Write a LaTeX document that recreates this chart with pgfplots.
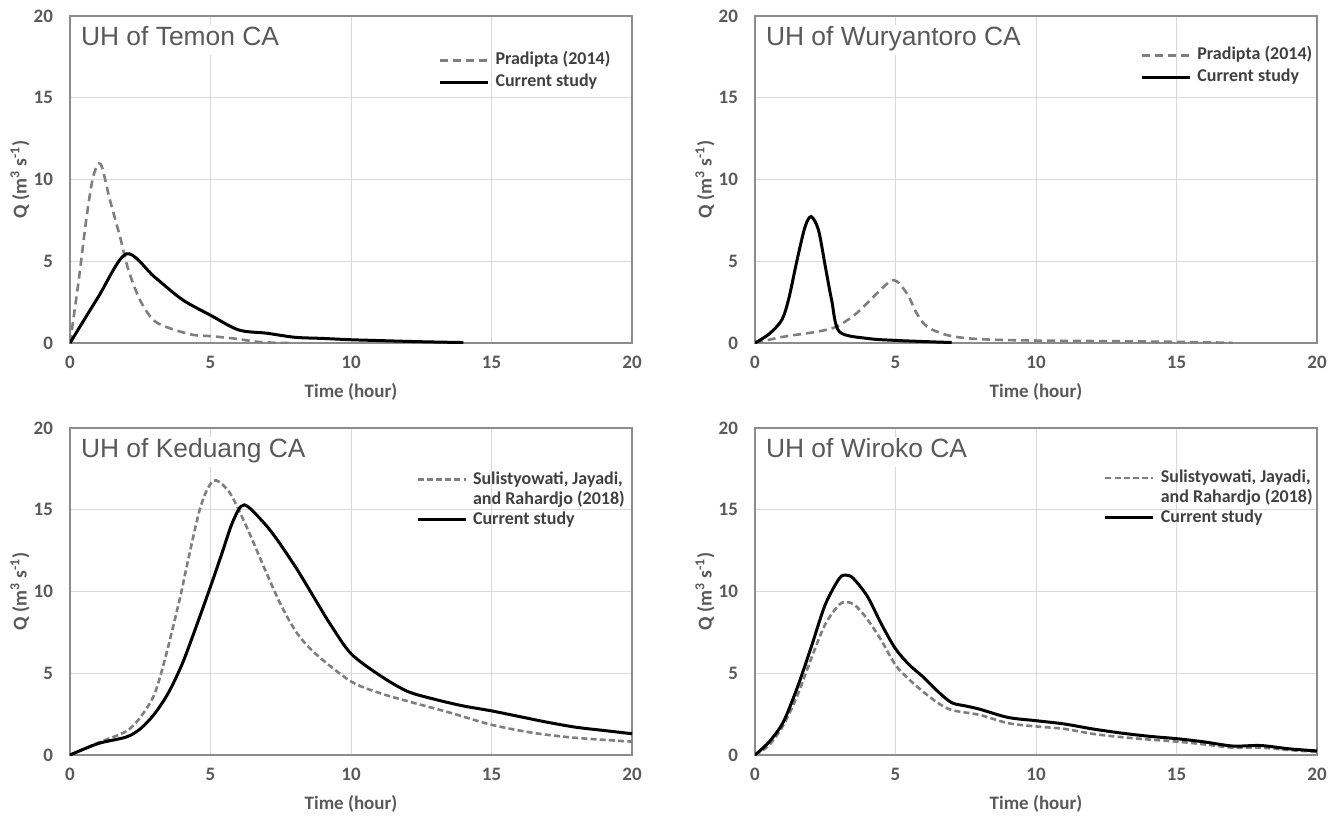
\documentclass[border=0pt]{standalone}
\usepackage{pgfplots}
\pgfplotsset{compat=1.18}
\usepackage{fontspec}
\setmainfont{Carlito}
\newfontfamily\titlefont{Liberation Sans}

\definecolor{txtgray}{HTML}{595959}
\definecolor{leggray}{HTML}{404040}
\definecolor{gridgray}{HTML}{D9D9D9}
\definecolor{framegray}{HTML}{8C8C8C}
\definecolor{dashgray}{HTML}{7F7F7F}

\tikzset{
  paneltitle/.style={anchor=base west, xshift=3.3pt, yshift=-14.5pt, fill=white,
    inner xsep=2pt, inner ysep=0pt, text height=10pt, text depth=5pt,
    font=\titlefont\fontsize{13.2}{15}\selectfont, text=txtgray},
}

\pgfplotsset{
  uhpanel/.style={
    scale only axis, width=281pt, height=163.5pt,
    xmin=0, xmax=20, ymin=0, ymax=20,
    xtick={0,5,...,20}, ytick={0,5,...,20},
    major tick length=0pt,
    grid=major, grid style={gridgray, line width=0.5pt},
    axis line style={framegray, line width=0.6pt},
    ticklabel style={font=\bfseries\fontsize{9.5}{11}\selectfont, text=txtgray},
    /pgf/number format/assume math mode=true,
    xticklabel style={yshift=-3pt},
    yticklabel style={xshift=-5pt},
    xlabel={Time (hour)},
    ylabel={Q (m\textsuperscript{3} s\textsuperscript{-1})},
    every axis x label/.style={at={(axis description cs:0.5,-0.15)}, anchor=center,
      font=\bfseries\fontsize{9.5}{11}\selectfont, text=txtgray},
    every axis y label/.style={at={(axis description cs:-0.089,0.5)}, rotate=90, anchor=center,
      font=\bfseries\fontsize{9.8}{11}\selectfont, text=txtgray},
    legend cell align=left,
    legend image code/.code={\draw[##1] (0pt,0pt) -- (24pt,0pt);},
    legend style={draw=none, fill=none, inner sep=0pt, anchor=north west,
      font=\bfseries\fontsize{9}{10}\selectfont, text=leggray,
      nodes={inner sep=0pt, text height=7pt, text depth=2.5pt},
      row sep=1.5pt, /tikz/column sep=3pt},
  },
  cur/.style={black, line width=1.5pt, smooth, no markers},
  oldA/.style={dashgray, line width=1.3pt, smooth, no markers, dash pattern=on 4pt off 2.5pt},
  oldB/.style={dashgray, line width=1.3pt, smooth, no markers, dash pattern=on 3pt off 1.6pt},
}

\begin{document}
\begin{tikzpicture}
\path[use as bounding box] (0pt,0pt) rectangle (669.5pt,-408pt);

% Temon
\begin{axis}[uhpanel, at={(35pt,-171.5pt)}, legend style={at={(axis cs:13.1,17.9)}}]
\addplot[oldA] coordinates {
  (0,0) (0.3,3.7) (0.59,7.7) (0.83,10.2) (1.09,10.95) (1.42,8.75) (1.78,6.5)
  (2.08,4.46) (2.49,2.63) (2.97,1.4) (3.56,0.9) (4.37,0.5) (5,0.42) (5.86,0.27)
  (6.76,0.06) (7.8,0)
};
\addlegendentry{Pradipta (2014)}
\addplot[cur] coordinates {
  (0,0) (1,2.8) (2,5.45) (3,4.05) (4,2.65) (5,1.7) (6,0.8) (7,0.6) (8,0.35)
  (9,0.28) (10,0.2) (11,0.15) (12,0.1) (13,0.06) (14,0.03)
};
\addlegendentry{Current study}
\node[paneltitle] at (rel axis cs:0,1) {UH of Temon CA};
\end{axis}

% Wuryantoro
\begin{axis}[uhpanel, at={(377.5pt,-171.5pt)}, legend style={at={(axis cs:13.7,18.2)}}]
\addplot[oldA] coordinates {
  (0,0) (1,0.38) (2.2,0.69) (2.9,1.0) (3.6,1.8) (4.35,3.05) (4.93,3.85) (5.4,3.05)
  (5.76,1.8) (6.12,1.0) (6.8,0.5) (7.5,0.3) (8.5,0.2) (10,0.15) (12,0.12)
  (15,0.07) (17,0.01)
};
\addlegendentry{Pradipta (2014)}
\addplot[cur] coordinates {
  (0,0) (0.5,0.55) (0.95,1.4) (1.2,2.7) (1.5,5.1) (1.78,7.1) (2,7.73) (2.26,6.9)
  (2.5,4.7) (2.73,2.6) (3,0.7) (4,0.28) (5,0.16) (6,0.09) (7,0.03)
};
\addlegendentry{Current study}
\node[paneltitle] at (rel axis cs:0,1) {UH of Wuryantoro CA};
\end{axis}

% Keduang
\begin{axis}[uhpanel, at={(35pt,-377.5pt)}, legend style={at={(axis cs:12.3,17.44)}, row sep=0.5pt}]
\addplot[oldB] coordinates {
  (0,0) (1,0.75) (2,1.45) (2.5,2.3) (3,3.7) (3.4,6.0) (3.9,9.5) (4.2,11.9)
  (4.6,14.9) (4.9,16.3) (5.2,16.8) (5.7,16.0) (6.3,13.9) (6.9,11.5) (7.5,9.2)
  (8.1,7.4) (8.8,6.1) (10,4.5) (11,3.8) (12,3.3) (13.5,2.6) (15,1.85)
  (16.5,1.35) (18,1.05) (20,0.82)
};
\addlegendentry{Sulistyowati, Jayadi,}
\addlegendimage{empty legend}
\addlegendentry{and Rahardjo (2018)}
\addplot[cur] coordinates {
  (0,0) (1,0.7) (2,1.1) (2.5,1.6) (3,2.5) (3.5,3.8) (4,5.6) (4.5,7.9) (5,10.3)
  (5.4,12.3) (5.8,14.3) (6.2,15.3) (6.9,14.2) (7.4,13.1) (8.1,11.3) (8.8,9.3)
  (9.3,7.9) (10,6.2) (11,4.9) (12,3.9) (13,3.4) (14,3.0) (15,2.7) (16,2.35)
  (17,2.0) (18,1.7) (19,1.5) (20,1.3)
};
\addlegendentry{Current study}
\node[paneltitle] at (rel axis cs:0,1) {UH of Keduang CA};
\end{axis}

% Wiroko
\begin{axis}[uhpanel, at={(377.5pt,-377.5pt)}, legend style={at={(axis cs:12.4,17.55)}, row sep=0.5pt}]
\addplot[oldB] coordinates {
  (0,0) (0.5,0.6) (1,1.8) (1.5,3.6) (2,5.9) (2.5,8.0) (3,9.2) (3.3,9.35) (3.6,9.1)
  (4,8.3) (4.5,7.0) (5,5.5) (5.5,4.6) (6,3.85) (6.5,3.2) (7,2.75) (8,2.45) (9,1.95)
  (10,1.75) (11,1.6) (12,1.3) (13,1.1) (14,0.95) (15,0.82) (16,0.65) (17,0.45)
  (18,0.45) (19,0.3) (20,0.2)
};
\addlegendentry{Sulistyowati, Jayadi,}
\addlegendimage{empty legend}
\addlegendentry{and Rahardjo (2018)}
\addplot[cur] coordinates {
  (0,0) (0.5,0.8) (1,2.0) (1.5,4.1) (2,6.6) (2.5,9.2) (3,10.8) (3.25,11.0)
  (3.5,10.8) (4,9.7) (4.5,8.0) (5,6.5) (5.5,5.5) (6,4.75) (6.5,3.9) (7,3.2)
  (7.5,3.0) (8,2.8) (9,2.3) (10,2.1) (11,1.9) (12,1.6) (13,1.35) (14,1.15)
  (15,1.0) (16,0.8) (17,0.55) (18,0.58) (19,0.38) (20,0.25)
};
\addlegendentry{Current study}
\node[paneltitle] at (rel axis cs:0,1) {UH of Wiroko CA};
\end{axis}
\end{tikzpicture}
\end{document}
